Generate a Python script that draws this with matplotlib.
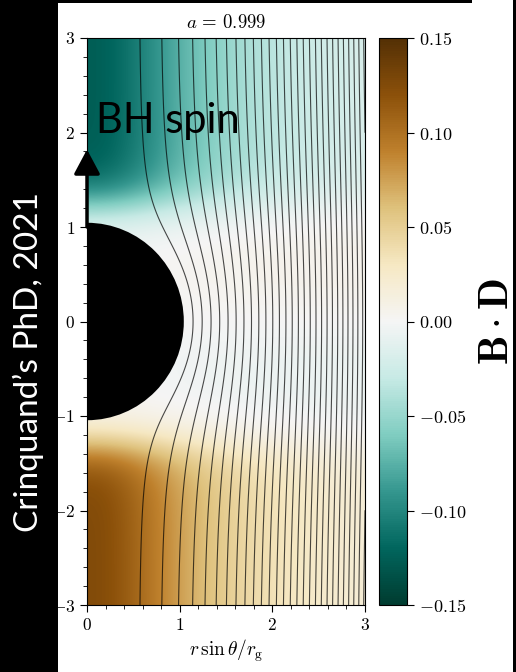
import numpy as np
import matplotlib
matplotlib.use('Agg')
import matplotlib.pyplot as plt
from matplotlib.patches import Circle, Rectangle
from matplotlib.ticker import FuncFormatter, MultipleLocator

plt.rcParams['mathtext.fontset'] = 'cm'
plt.rcParams['font.family'] = 'serif'
plt.rcParams['font.serif'] = ['DejaVu Serif']

# Black hole spin and the derived horizon radius (r_+ = 1 + sqrt(1 - a^2))
spin = 0.999
r_horizon = 1 + np.sqrt(1 - spin**2)

# Flux surfaces drawn as contours: psi = n * psi_step, n = 1..n_lines
psi_step = 0.3136
n_lines = 28

# B.D model parameters: peak amplitude, radial fall-off, transition heights
bd_peak = 0.125
bd_xscale = 1.25
bd_y_north = 1.25
bd_y_south = -1.3
bd_width = 0.3
lobe_amp = 0.014
lobe_width = 0.9

bd_limits = [-0.15, 0.15]
cbar_ticks = [-0.15, -0.10, -0.05, 0.00, 0.05, 0.10, 0.15]
x_ticks = [0, 1, 2, 3]
y_ticks = [-3, -2, -1, 0, 1, 2, 3]

# grid
x = np.linspace(0, 3, 600)
y = np.linspace(-3, 3, 1200)
X, Y = np.meshgrid(x, y)
R = np.sqrt(X**2 + Y**2)

# Meissner-like expulsion of the vertical field from the horizon
psi = X**2 * (1 - (r_horizon / np.maximum(R, 1e-6))**3)
psi[R < r_horizon] = np.nan

amp = bd_peak / (1 + (X / bd_xscale)**2)
step = 0.5 * (np.tanh((Y - bd_y_north) / bd_width) + np.tanh((Y - bd_y_south) / bd_width))
lobe = lobe_amp * (Y / lobe_width) * np.exp(-(Y / lobe_width)**2) * (1 - np.exp(-(X / 1.2)**2))
BD = -amp * step + lobe

fig = plt.figure(figsize=(5.16, 6.72), dpi=100, facecolor='black')
# white page with a black band on the left
fig.patches.append(Rectangle((58 / 516, 0), (513 - 58) / 516, 669 / 672,
                             transform=fig.transFigure, facecolor='white',
                             edgecolor='none', zorder=-10))
fig.patches.append(Rectangle((472 / 516, 669 / 672), (513 - 472) / 516, 3 / 672,
                             transform=fig.transFigure, facecolor='white',
                             edgecolor='none', zorder=-10))

ax = fig.add_axes([87 / 516, 67 / 672, 278 / 516, 567 / 672])
cax = fig.add_axes([379 / 516, 67 / 672, 28 / 516, 567 / 672])

im = ax.imshow(BD, extent=[0, 3, -3, 3], origin='lower', cmap='BrBG_r',
               vmin=bd_limits[0], vmax=bd_limits[1], aspect='auto',
               interpolation='bilinear')
levels = psi_step * np.arange(1, n_lines + 1)
ax.contour(X, Y, psi, levels=levels, colors='k', linewidths=0.8, alpha=0.7)
ax.add_patch(Circle((0, 0), r_horizon, facecolor='black', edgecolor='none', zorder=3))

ax.set_xlim(0, 3)
ax.set_ylim(-3, 3)
ax.set_xticks(x_ticks)
ax.set_yticks(y_ticks)
ax.xaxis.set_minor_locator(MultipleLocator(0.2))
ax.yaxis.set_minor_locator(MultipleLocator(0.2))
ax.xaxis.set_major_formatter(FuncFormatter(lambda v, p: r'$%d$' % v))
ax.yaxis.set_major_formatter(FuncFormatter(lambda v, p: r'$%d$' % v))
ax.tick_params(which='both', labelsize=12.5, direction='out')
ax.tick_params(which='major', length=5)
ax.tick_params(which='minor', length=3)
ax.set_title(r'$a\,=\,0.999$', fontsize=13.5, pad=7)
ax.set_xlabel(r'$r\,\sin\theta/r_{\rm g}$', fontsize=14, labelpad=3)

cb = fig.colorbar(im, cax=cax, ticks=cbar_ticks)
cb.ax.yaxis.set_major_formatter(FuncFormatter(lambda v, p: r'$%.2f$' % v))
cb.ax.tick_params(labelsize=13, length=5)
cb.set_label(r'$\mathbf{B}\cdot\mathbf{D}$', fontsize=30, labelpad=6)

# spin axis arrow
ax.annotate('', xy=(0, 1.82), xytext=(0, 1.0),
            arrowprops=dict(arrowstyle='-|>,head_length=0.75,head_width=0.4',
                            mutation_scale=20, color='black', lw=2.5,
                            shrinkA=0, shrinkB=0),
            annotation_clip=False, zorder=5)
ax.text(0.1, 2.0, 'BH spin', family='Lato', fontsize=30, color='black',
        ha='left', va='baseline', zorder=6)

fig.text(28 / 516, 1 - 362 / 672, 'Crinquand\u2019s PhD, 2021', family='Lato',
         fontsize=24, color='white', rotation=90, ha='center', va='center')

fig.savefig('out.png', dpi=100, facecolor=fig.get_facecolor())
